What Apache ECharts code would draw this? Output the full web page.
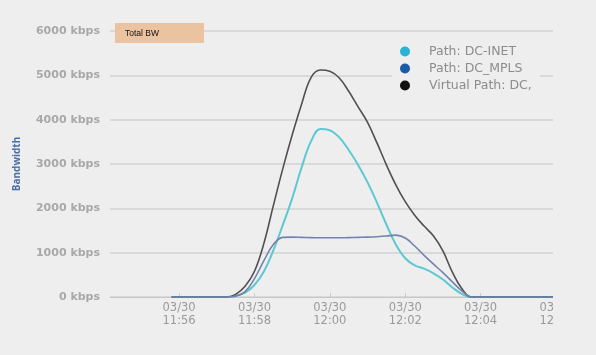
<!DOCTYPE html>
<html>
<head>
<meta charset="utf-8">
<script src="https://cdn.jsdelivr.net/npm/echarts@6/dist/echarts.min.js"></script>
<style>
  html, body { margin: 0; padding: 0; background: #eeeeee; }
  #wrap { width: 553px; height: 355px; overflow: hidden; }
  #mychart { width: 596px; height: 355px; }
</style>
</head>
<body>
<div id="wrap"><div id="mychart"></div></div>
<script>
// sample times (hh:mm:ss on 03/30)
const times = [
  '11:55:48', '11:56:30', '11:57:00', '11:57:15', '11:57:30', '11:57:45',
  '11:58:00', '11:58:15', '11:58:30', '11:58:45', '11:59:00', '11:59:15',
  '11:59:30', '11:59:45', '12:00:00', '12:00:15', '12:00:30', '12:00:45',
  '12:01:00', '12:01:15', '12:01:30', '12:01:45', '12:02:00', '12:02:15',
  '12:02:30', '12:02:45', '12:03:00', '12:03:15', '12:03:30', '12:03:45',
  '12:04:15', '12:05:00', '12:06:00'
]

const inetValues = [
  0, 0, 0, 0, 30, 100,
  270, 575, 1050, 1620, 2225, 2920,
  3510, 3790, 3760, 3600, 3315, 2980,
  2585, 2130, 1635, 1185, 875, 715,
  640, 535, 395, 215, 70, 0,
  0, 0, 0
]

const mplsValues = [
  0, 0, 0, 0, 20, 120,
  415, 820, 1185, 1345, 1350, 1345,
  1340, 1335, 1335, 1335, 1340, 1345,
  1350, 1360, 1375, 1395, 1330, 1150,
  940, 740, 550, 340, 140, 0,
  0, 0, 0
]

const virtualValues = [
  0, 0, 0, 0, 60, 240,
  580, 1210, 2060, 2890, 3655, 4350,
  4950, 5120, 5090, 4940, 4640, 4290,
  3940, 3475, 2980, 2530, 2150, 1845,
  1600, 1375, 1040, 560, 190, 0,
  0, 0, 0
]

const tickTimes = ['11:56:00', '11:58:00', '12:00:00', '12:02:00', '12:04:00', '12:06:00']
const tickDate = '03/30'
const yTicks = [0, 1000, 2000, 3000, 4000, 5000, 6000]

const seriesNames = ['Path: DC-INET', 'Path: DC_MPLS', 'Virtual Path: DC,']

// seconds since midnight
function toSec(str) {
  let p = str.split(':').map(Number)
  return p[0] * 3600 + p[1] * 60 + p[2]
}

function pairs(values) {
  return times.map((t, i) => [toSec(t), values[i]])
}

function pad(n) {
  return n < 10 ? '0' + n : '' + n
}

let Chart = echarts.init(document.getElementById('mychart'))

let option = {
  backgroundColor: '#eeeeee',
  animation: false,
  title: {
    text: 'Total BW',
    left: 115,
    top: 23,
    backgroundColor: '#ebc3a0',
    padding: [6, 45, 5, 10],
    textStyle: {
      fontSize: 8.5,
      fontWeight: 'normal',
      color: '#111',
      fontFamily: 'Liberation Sans'
    }
  },
  legend: {
    orient: 'vertical',
    left: 392,
    top: 42,
    padding: [3, 8, 6, 8],
    backgroundColor: '#eeeeee',
    itemGap: 4,
    itemWidth: 10,
    itemHeight: 10,
    icon: 'circle',
    textStyle: {
      color: '#8c8c8c',
      fontSize: 12.5,
      fontFamily: 'DejaVu Sans',
      padding: [0, 0, 0, 14]
    },
    data: [
      { name: seriesNames[0], itemStyle: { color: '#27b4d6' } },
      { name: seriesNames[1], itemStyle: { color: '#1d5aa6' } },
      { name: seriesNames[2], itemStyle: { color: '#111111' } }
    ]
  },
  grid: {
    left: 110,
    right: 40,
    top: 31,
    bottom: 58
  },
  xAxis: {
    type: 'value',
    min: toSec('11:54:10'),
    max: toSec('12:06:00'),
    axisLine: { lineStyle: { color: '#c8c8c8', width: 1 } },
    axisTick: {
      show: true,
      inside: true,
      length: 4,
      customValues: tickTimes.map(toSec),
      lineStyle: { color: '#cccccc' }
    },
    splitLine: { show: false },
    axisLabel: {
      customValues: tickTimes.map(toSec),
      color: '#9a9a9a',
      fontSize: 11.5,
      lineHeight: 13,
      margin: 5,
      fontFamily: 'DejaVu Sans',
      formatter: function (val) {
        let h = Math.floor(val / 3600)
        let m = Math.floor((val % 3600) / 60)
        return tickDate + '\n' + pad(h) + ':' + pad(m)
      }
    }
  },
  yAxis: {
    type: 'value',
    min: yTicks[0],
    max: yTicks[yTicks.length - 1],
    interval: 1000,
    name: 'Bandwidth',
    nameLocation: 'middle',
    nameRotate: 90,
    nameGap: 88,
    nameTextStyle: {
      color: '#4b6fa6',
      fontSize: 10,
      fontWeight: 'bold',
      fontFamily: 'Open Sans'
    },
    axisLine: { show: false },
    axisTick: { show: false },
    axisLabel: {
      margin: 10,
      color: '#a8a8a8',
      fontSize: 11,
      fontWeight: 'bold',
      fontFamily: 'DejaVu Sans',
      formatter: function (val) {
        return val + ' kbps'
      }
    },
    splitLine: { lineStyle: { color: '#d2d2d2', width: 1.5 } }
  },
  series: [
    {
      name: seriesNames[0],
      type: 'line',
      data: pairs(inetValues),
      smooth: 0.4,
      showSymbol: false,
      z: 1,
      lineStyle: { color: '#5cc9d2', width: 2 },
      itemStyle: { color: '#5cc9d2' }
    },
    {
      name: seriesNames[1],
      type: 'line',
      data: pairs(mplsValues),
      smooth: 0.4,
      showSymbol: false,
      z: 3,
      lineStyle: { color: '#7383ad', width: 1.6 },
      itemStyle: { color: '#7383ad' }
    },
    {
      name: seriesNames[2],
      type: 'line',
      data: pairs(virtualValues),
      smooth: 0.4,
      showSymbol: false,
      z: 2,
      lineStyle: { color: '#505050', width: 1.6 },
      itemStyle: { color: '#505050' }
    }
  ]
}

Chart.setOption(option)
</script>
</body>
</html>
